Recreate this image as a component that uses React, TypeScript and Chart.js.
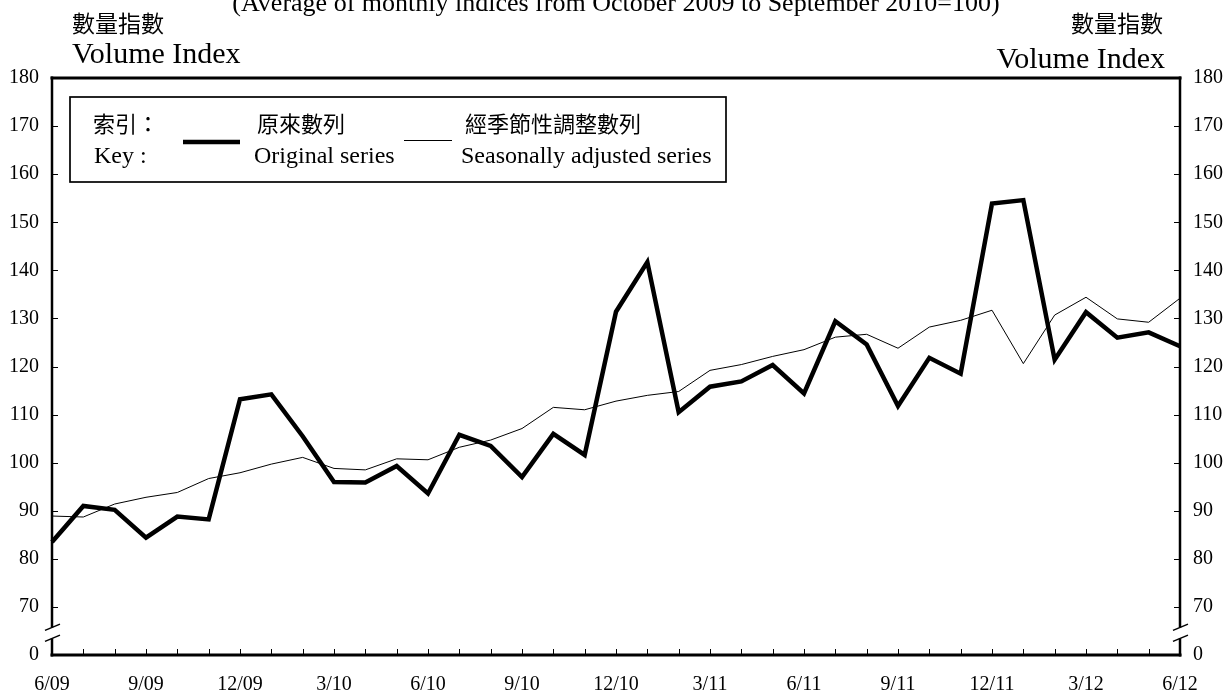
import React, { useEffect, useRef } from 'react';
import { Chart, registerables } from 'chart.js';

Chart.register(...registerables);

const months = [
  '6/09', '7/09', '8/09', '9/09', '10/09', '11/09', '12/09',
  '1/10', '2/10', '3/10', '4/10', '5/10', '6/10', '7/10', '8/10', '9/10', '10/10', '11/10', '12/10',
  '1/11', '2/11', '3/11', '4/11', '5/11', '6/11', '7/11', '8/11', '9/11', '10/11', '11/11', '12/11',
  '1/12', '2/12', '3/12', '4/12', '5/12', '6/12',
];

const xTickLabels = ['6/09', '9/09', '12/09', '3/10', '6/10', '9/10', '12/10', '3/11', '6/11', '9/11', '12/11', '3/12', '6/12'];

const originalSeries = [
  83.5, 91.0, 90.2, 84.4, 88.8, 88.2, 113.2,
  114.2, 105.5, 96.0, 95.9, 99.3, 93.6, 105.8, 103.5, 97.0, 106.0, 101.6, 131.4,
  141.7, 110.5, 115.8, 116.9, 120.3, 114.4, 129.4, 124.6, 111.8, 121.8, 118.5, 153.9,
  154.6, 121.4, 131.3, 126.0, 127.1, 124.2,
];

const seasonallyAdjusted = [
  88.9, 88.7, 91.4, 92.8, 93.8, 96.7, 97.9,
  99.7, 101.1, 98.8, 98.5, 100.8, 100.6, 103.2, 104.7, 107.1, 111.5, 111.0, 112.8,
  114.0, 114.8, 119.2, 120.4, 122.1, 123.5, 126.1, 126.7, 123.8, 128.2, 129.6, 131.7,
  120.6, 130.7, 134.4, 129.9, 129.2, 134.2,
];

// Axis is broken: the bottom position (60 on the scale) is labelled "0"
const yTickValues = [60, 70, 80, 90, 100, 110, 120, 130, 140, 150, 160, 170, 180];
const yTickLabels = ['0', '70', '80', '90', '100', '110', '120', '130', '140', '150', '160', '170', '180'];

const SERIF = '"Liberation Serif", "Times New Roman", serif';
const CJK = '"Noto Sans CJK TC", "Noto Sans CJK SC", sans-serif';

const yLabel = (v: number) => {
  const i = yTickValues.indexOf(v);
  return i >= 0 ? yTickLabels[i] : '';
};

const framePlugin = {
  id: 'frame',
  afterDatasetsDraw(chart: any) {
    const { ctx, chartArea, scales } = chart;
    const { left, right, top, bottom } = chartArea;
    const ys = scales.y;
    const xs = scales.x;
    const line = (x1: number, y1: number, x2: number, y2: number) => {
      ctx.beginPath();
      ctx.moveTo(x1, y1);
      ctx.lineTo(x2, y2);
      ctx.stroke();
    };
    ctx.save();
    ctx.strokeStyle = '#000';
    ctx.lineCap = 'butt';
    ctx.lineWidth = 1;
    // inward y ticks
    yTickValues.forEach((v) => {
      if (v === ys.min || v === ys.max) return;
      const py = Math.round(ys.getPixelForValue(v)) + 0.5;
      line(left, py, left + 6, py);
      line(right - 6, py, right, py);
    });
    // inward x ticks (monthly)
    months.forEach((_, i) => {
      if (i === 0 || i === months.length - 1) return;
      const px = Math.round(xs.getPixelForValue(i)) + 0.5;
      line(px, bottom, px, bottom - 6);
    });
    // break position
    const bc = ys.getPixelForValue(64.6);
    const bTop = bc - 5.5;
    const bBot = bc + 5.5;
    // frame
    ctx.lineCap = 'square';
    ctx.lineWidth = 3;
    line(left, top, right, top);
    line(left, bottom, right, bottom);
    ctx.lineWidth = 2.5;
    ctx.lineCap = 'butt';
    line(left, top - 1.5, left, bTop);
    line(left, bBot, left, bottom + 1.5);
    line(right, top - 1.5, right, bTop);
    line(right, bBot, right, bottom + 1.5);
    // break slashes
    ctx.lineWidth = 1.5;
    [left, right].forEach((ax) => {
      line(ax - 7, bTop + 3, ax + 8, bTop - 3.2);
      line(ax - 7, bBot + 3, ax + 8, bBot - 3.2);
    });
    ctx.restore();
  },
  afterDraw(chart: any) {
    const { ctx } = chart;
    ctx.save();
    ctx.fillStyle = '#000';
    ctx.strokeStyle = '#000';
    // title (partly cut off at top)
    ctx.font = `26px ${SERIF}`;
    ctx.textAlign = 'center';
    ctx.textBaseline = 'alphabetic';
    ctx.fillText('(Average of monthly indices from October 2009 to September 2010=100)', 616, 11);
    // left header
    ctx.textAlign = 'left';
    ctx.textBaseline = 'middle';
    ctx.font = `23px ${CJK}`;
    ctx.fillText('數量指數', 72, 23);
    ctx.textBaseline = 'alphabetic';
    ctx.font = `30px ${SERIF}`;
    ctx.fillText('Volume Index', 72, 63);
    // right header
    ctx.textAlign = 'right';
    ctx.textBaseline = 'middle';
    ctx.font = `23px ${CJK}`;
    ctx.fillText('數量指數', 1163, 23);
    ctx.textBaseline = 'alphabetic';
    ctx.font = `30px ${SERIF}`;
    ctx.fillText('Volume Index', 1165, 68);
    // legend box
    ctx.lineWidth = 1.7;
    ctx.strokeRect(70, 97, 656, 85);
    ctx.textAlign = 'left';
    ctx.textBaseline = 'middle';
    ctx.font = `22px ${CJK}`;
    ctx.fillText('索引：', 93, 124);
    ctx.fillText('原來數列', 257, 124);
    ctx.fillText('經季節性調整數列', 465, 124);
    ctx.textBaseline = 'alphabetic';
    ctx.font = `24px ${SERIF}`;
    ctx.fillText('Key :', 94, 163);
    ctx.fillText('Original series', 254, 163);
    ctx.fillText('Seasonally adjusted series', 461, 163);
    ctx.lineWidth = 4.5;
    ctx.beginPath();
    ctx.moveTo(183, 142);
    ctx.lineTo(240, 142);
    ctx.stroke();
    ctx.lineWidth = 1;
    ctx.beginPath();
    ctx.moveTo(404, 140.5);
    ctx.lineTo(452, 140.5);
    ctx.stroke();
    ctx.restore();
  },
};

export default function App() {
  const ref = useRef<HTMLCanvasElement | null>(null);
  useEffect(() => {
    if (!ref.current) return;
    const yCommon = (pos: 'left' | 'right', width: number) => ({
      type: 'linear' as const,
      position: pos,
      min: 60,
      max: 180,
      afterBuildTicks(s: any) {
        s.ticks = yTickValues.map((v) => ({ value: v }));
      },
      afterFit(s: any) {
        s.width = width;
      },
      grid: { display: false, drawTicks: false },
      border: { display: false },
      ticks: {
        padding: 13,
        color: '#000',
        font: { family: SERIF, size: 20 },
        callback: (v: any) => yLabel(Number(v)),
      },
    });
    const chart = new Chart(ref.current, {
      type: 'line',
      data: {
        labels: months,
        datasets: [
          {
            label: 'Seasonally adjusted series',
            data: seasonallyAdjusted,
            borderColor: '#000',
            borderWidth: 1,
            pointRadius: 0,
            tension: 0,
            yAxisID: 'y',
          },
          {
            label: 'Original series',
            data: originalSeries,
            borderColor: '#000',
            borderWidth: 4.5,
            borderJoinStyle: 'miter',
            pointRadius: 0,
            tension: 0,
            yAxisID: 'y',
          },
        ],
      },
      options: {
        responsive: false,
        animation: false,
        events: [],
        layout: { padding: { top: 78, left: 0, right: 0, bottom: 0 } },
        plugins: {
          legend: { display: false },
          tooltip: { enabled: false },
          title: { display: false },
        },
        scales: {
          x: {
            type: 'category',
            offset: false,
            grid: { display: false, drawTicks: false },
            border: { display: false },
            afterFit(s: any) {
              s.height = 38;
            },
            ticks: {
              autoSkip: false,
              maxRotation: 0,
              minRotation: 0,
              padding: 18,
              color: '#000',
              font: { family: SERIF, size: 20 },
              callback: (_v: any, i: number) => (xTickLabels.includes(months[i]) ? months[i] : ''),
            },
          },
          y: yCommon('left', 52),
          y2: yCommon('right', 51),
        },
      },
      plugins: [framePlugin],
    });
    return () => chart.destroy();
  }, []);
  return (
    <div style={{ position: 'fixed', left: 0, top: 0, width: 1231, height: 693, background: '#fff' }}>
      <canvas ref={ref} width={1231} height={693} style={{ display: 'block' }} />
    </div>
  );
}
